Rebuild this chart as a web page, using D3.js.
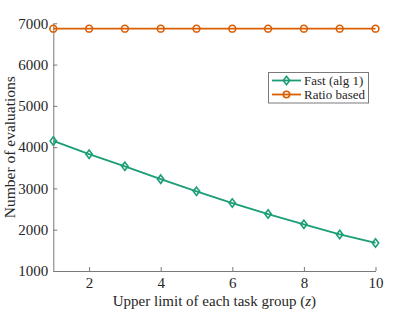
<!DOCTYPE html>
<html>
<head>
<meta charset="utf-8">
<script src="https://cdn.jsdelivr.net/npm/d3@7"></script>
<style>
  body { margin: 0; background: #fff; }
  svg { display: block; font-family: "Liberation Serif", "DejaVu Serif", serif; }
</style>
</head>
<body>
<svg id="chart"></svg>
<script>
const zValues = [1, 2, 3, 4, 5, 6, 7, 8, 9, 10];
const fastEvals = [4150, 3830, 3535, 3225, 2930, 2645, 2380, 2130, 1885, 1680];
const ratioEvals = [6870, 6870, 6870, 6870, 6870, 6870, 6870, 6870, 6870, 6870];
const xTicks = [2, 4, 6, 8, 10];
const yTicks = [1000, 2000, 3000, 4000, 5000, 6000, 7000];
const seriesNames = ['Fast (alg 1)', 'Ratio based'];

const width = 415, height = 312;
const margin = {top: 23.3, right: 39.5, bottom: 41, left: 53.3};
const green = '#1b9e77', orange = '#d95f02', axisCol = '#7a7a7a';

const svg = d3.select('#chart')
  .attr('width', width)
  .attr('height', height);

const xScale = d3.scaleLinear()
  .domain([1, 10])
  .range([margin.left, width - margin.right]);
const yScale = d3.scaleLinear()
  .domain([1000, 7000])
  .range([height - margin.bottom, margin.top]);

// axes, ticks pointing inward like matlab
const xAxis = d3.axisBottom(xScale)
  .tickValues(xTicks)
  .tickFormat(d3.format('d'))
  .tickSizeInner(-4)
  .tickSizeOuter(0)
  .tickPadding(6);
const yAxis = d3.axisLeft(yScale)
  .tickValues(yTicks)
  .tickFormat(d3.format('d'))
  .tickSizeInner(-4)
  .tickSizeOuter(0)
  .tickPadding(5);

const gx = svg.append('g')
  .attr('transform', `translate(0, ${height - margin.bottom})`)
  .call(xAxis);
const gy = svg.append('g')
  .attr('transform', `translate(${margin.left}, 0)`)
  .call(yAxis);

[gx, gy].forEach(g => {
  g.attr('font-family', null).attr('font-size', null);
  g.select('.domain').attr('stroke', axisCol).attr('stroke-width', 1);
  g.selectAll('.tick line').attr('stroke', axisCol);
  g.selectAll('.tick text')
    .attr('fill', '#262626')
    .style('font-size', '15px');
});

// axis labels
svg.append('text')
  .attr('x', (margin.left + width - margin.right) / 2)
  .attr('y', 306)
  .attr('text-anchor', 'middle')
  .style('font-size', '15px')
  .attr('fill', '#262626')
  .html('Upper limit of each task group (<tspan font-style="italic">z</tspan>)');

svg.append('text')
  .attr('transform', `translate(15, ${(margin.top + height - margin.bottom) / 2}) rotate(-90)`)
  .attr('text-anchor', 'middle')
  .style('font-size', '15.5px')
  .attr('fill', '#262626')
  .text('Number of evaluations');

const line = d3.line()
  .x((d, i) => xScale(zValues[i]))
  .y(d => yScale(d));

const diamond = (cx, cy) => `M${cx},${cy - 4.2}L${cx + 3.2},${cy}L${cx},${cy + 4.2}L${cx - 3.2},${cy}Z`;

// ratio based series
svg.append('path')
  .datum(ratioEvals)
  .attr('d', line)
  .attr('fill', 'none')
  .attr('stroke', orange)
  .attr('stroke-width', 1.8);
svg.selectAll('.ratioPt')
  .data(ratioEvals)
  .join('circle')
    .attr('class', 'ratioPt')
    .attr('cx', (d, i) => xScale(zValues[i]))
    .attr('cy', d => yScale(d))
    .attr('r', 3.4)
    .attr('fill', 'none')
    .attr('stroke', orange)
    .attr('stroke-width', 1.6);

// fast series
svg.append('path')
  .datum(fastEvals)
  .attr('d', line)
  .attr('fill', 'none')
  .attr('stroke', green)
  .attr('stroke-width', 1.8);
svg.selectAll('.fastPt')
  .data(fastEvals)
  .join('path')
    .attr('class', 'fastPt')
    .attr('d', (d, i) => diamond(xScale(zValues[i]), yScale(d)))
    .attr('fill', 'none')
    .attr('stroke', green)
    .attr('stroke-width', 1.6);

// legend
const leg = svg.append('g');
leg.append('rect')
  .attr('x', 268.5).attr('y', 72.5)
  .attr('width', 100).attr('height', 30.5)
  .attr('fill', '#fff')
  .attr('stroke', axisCol)
  .attr('stroke-width', 1);

const legColors = [green, orange];
seriesNames.forEach((name, i) => {
  const ly = 80.5 + i * 14;
  leg.append('line')
    .attr('x1', 272).attr('x2', 301)
    .attr('y1', ly).attr('y2', ly)
    .attr('stroke', legColors[i])
    .attr('stroke-width', 1.8);
  if (i === 0) {
    leg.append('path')
      .attr('d', diamond(286.5, ly))
      .attr('fill', 'none')
      .attr('stroke', green)
      .attr('stroke-width', 1.6);
  } else {
    leg.append('circle')
      .attr('cx', 286.5).attr('cy', ly).attr('r', 3.2)
      .attr('fill', 'none')
      .attr('stroke', orange)
      .attr('stroke-width', 1.6);
  }
  leg.append('text')
    .attr('x', 304)
    .attr('y', ly + 4.3)
    .style('font-size', '13px')
    .attr('fill', '#262626')
    .text(name);
});
</script>
</body>
</html>
